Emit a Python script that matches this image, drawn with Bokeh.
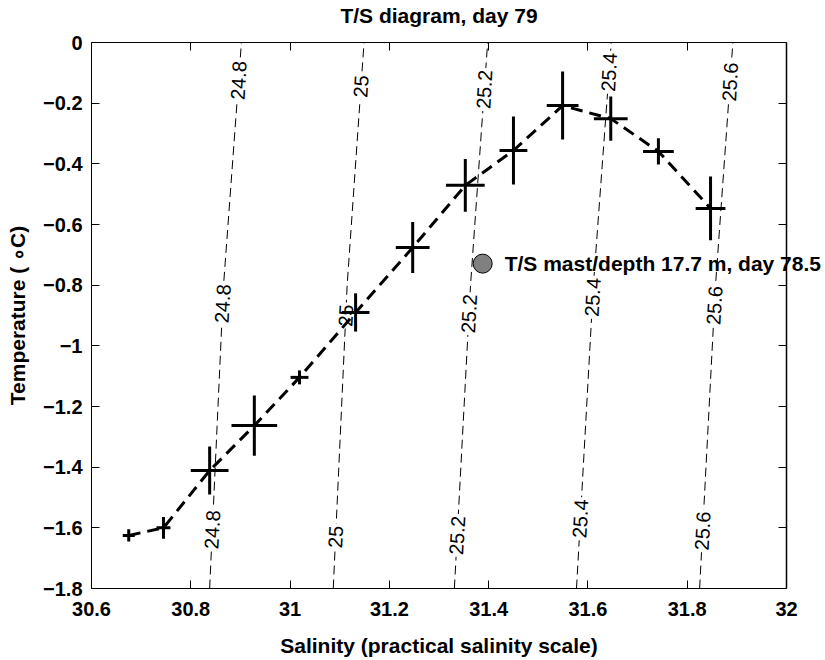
import numpy as np
from bokeh.plotting import figure
from bokeh.models import LinearAxis, FixedTicker, Label, CustomJSTickFormatter, Range1d, Span
from bokeh.core.properties import value
from bokeh.embed import file_html
from bokeh.resources import INLINE

# ---- data ----
salinity = [30.675, 30.745, 30.838, 30.928, 31.019, 31.132, 31.247,
            31.353, 31.450, 31.549, 31.646, 31.742, 31.847]
temperature = [-1.625, -1.600, -1.411, -1.263, -1.104, -0.890, -0.676,
               -0.471, -0.356, -0.208, -0.251, -0.359, -0.547]
salinity_err = [0.012, 0.014, 0.038, 0.046, 0.018, 0.028, 0.034,
                0.039, 0.028, 0.032, 0.034, 0.031, 0.030]
temperature_err = [0.020, 0.036, 0.079, 0.099, 0.023, 0.063, 0.084,
                   0.087, 0.112, 0.112, 0.073, 0.043, 0.105]

mast_salinity = [31.388]
mast_temperature = [-0.729]
mast_label = "T/S mast/depth 17.7 m, day 78.5"

# isopycnals (sigma-t) : salinity at temperatures contour_T
sigma_labels = ["24.8", "25", "25.2", "25.4", "25.6"]
contour_T = [-1.8, -0.8, 0.0]
contour_S_248 = [30.838, 30.866, 30.902]
contour_S_250 = [31.087, 31.115, 31.149]
contour_S_252 = [31.331, 31.3635, 31.398]
contour_S_254 = [31.577, 31.611, 31.647]
contour_S_256 = [31.825, 31.857, 31.892]
label_T_248 = [-0.125, -0.861, -1.606]
label_T_250 = [-0.145, -0.900, -1.630]
label_T_252 = [-0.155, -0.894, -1.625]
label_T_254 = [-0.098, -0.840, -1.570]
label_T_256 = [-0.130, -0.867, -1.610]

x_ticks = [30.6, 30.8, 31.0, 31.2, 31.4, 31.6, 31.8, 32.0]
x_tick_labels = ["30.6", "30.8", "31", "31.2", "31.4", "31.6", "31.8", "32"]
y_ticks = [-1.8, -1.6, -1.4, -1.2, -1.0, -0.8, -0.6, -0.4, -0.2, 0.0]
y_tick_labels = ["\u22121.8", "\u22121.6", "\u22121.4", "\u22121.2", "\u22121",
                 "\u22120.8", "\u22120.6", "\u22120.4", "\u22120.2", "0"]

title_text = "T/S diagram, day 79"
x_title = "Salinity (practical salinity scale)"
y_title = "Temperature ( \u2218C)"

FONT = "Liberation Sans"

# layout: the box (30.6..32) spans 91..786 px; the drawing area continues to the
# window edge so that the mast label may run past the right border, as in the original
W, H = 825, 660
LEFT, BOX_RIGHT, TOP, BOTTOM = 91, 786, 42, 72
x_lo, x_hi = x_ticks[0], x_ticks[-1]
x_mid = (x_lo + x_hi) / 2
x_end = x_lo + (x_hi - x_lo) * (W - LEFT) / (BOX_RIGHT - LEFT)

p = figure(width=W, height=H, x_range=Range1d(x_lo, x_end),
           y_range=Range1d(y_ticks[0], y_ticks[-1]),
           output_backend="svg", toolbar_location=None,
           min_border_left=LEFT, min_border_right=0, min_border_top=TOP,
           min_border_bottom=BOTTOM, background_fill_color="white",
           border_fill_color="white")
p.grid.visible = False
p.outline_line_color = None
p.title.visible = False

def style_axis(ax, ticks, labels=None):
    ax.ticker = FixedTicker(ticks=ticks)
    ax.bounds = (ticks[0], ticks[-1])
    ax.major_tick_in = 8
    ax.major_tick_out = 0
    ax.minor_tick_line_color = None
    ax.major_tick_line_color = "black"
    ax.axis_line_color = "black"
    ax.major_label_text_font = FONT
    ax.major_label_text_font_style = "bold"
    ax.major_label_text_font_size = "20px"
    ax.major_label_text_color = "black"
    ax.axis_label_text_font = FONT
    ax.axis_label_text_font_style = "bold"
    ax.axis_label_text_font_size = "21px"
    ax.axis_label_text_color = "black"
    if labels is not None:
        ax.major_label_overrides = {t: l for t, l in zip(ticks, labels)}

xa = p.xaxis[0]
style_axis(xa, x_ticks, x_tick_labels)
xa.major_label_standoff = 13

ya = p.yaxis[0]
style_axis(ya, y_ticks, y_tick_labels)
ya.axis_label = y_title
ya.major_label_standoff = 9
ya.axis_label_standoff = 11

top = LinearAxis()
style_axis(top, x_ticks)
top.formatter = CustomJSTickFormatter(code="return ''")
top.major_label_standoff = 0
top.major_label_text_font_size = "0px"
p.add_layout(top, "above")

right = LinearAxis(fixed_location=x_hi)
style_axis(right, y_ticks)
right.formatter = CustomJSTickFormatter(code="return ''")
right.major_label_standoff = 0
right.major_label_text_font_size = "0px"
p.add_layout(right, "right")
# right border of the box at S = 32
p.add_layout(Span(location=x_hi, dimension="height", line_color="black",
                  line_width=1.5))

# title and x-axis title centred on the box (30.6..32), as in the original
p.add_layout(Label(x=x_mid, y=y_ticks[-1], y_offset=27, text=title_text,
                   text_align="center", text_baseline="middle", text_font=FONT,
                   text_font_style="bold", text_font_size="21px",
                   text_color="black"), "above")
p.add_layout(Label(x=x_mid, y=y_ticks[0], y_offset=-57, text=x_title,
                   text_align="center", text_baseline="middle", text_font=FONT,
                   text_font_style="bold", text_font_size="21px",
                   text_color="black"), "below")

# ---- isopycnals ----
contours = [contour_S_248, contour_S_250, contour_S_252, contour_S_254, contour_S_256]
label_Ts = [label_T_248, label_T_250, label_T_252, label_T_254, label_T_256]
for lab, cs, lt in zip(sigma_labels, contours, label_Ts):
    p.line(cs, contour_T, line_color="black", line_width=1, line_dash="9 5")
for lab, cs, lt in zip(sigma_labels, contours, label_Ts):
    lx = np.interp(lt, contour_T, cs)
    p.text(x=list(lx), y=lt, text=[lab] * len(lt), angle=1.515,
           text_align="center", text_baseline="middle",
           text_font=value(FONT), text_font_size="20px", text_color="black",
           background_fill_color="white", padding=2)

# ---- T/S profile ----
s = np.array(salinity)
t = np.array(temperature)
ds = np.array(salinity_err)
dt = np.array(temperature_err)
p.line(salinity, temperature, line_color="black", line_width=3, line_dash="12 7")
p.segment(x0=s - ds, y0=t, x1=s + ds, y1=t, line_color="black", line_width=3)
p.segment(x0=s, y0=t - dt, x1=s, y1=t + dt, line_color="black", line_width=3)

# ---- mast sensor ----
p.scatter(mast_salinity, mast_temperature, size=19, fill_color="#808080",
          line_color="black", line_width=1)
p.add_layout(Label(x=mast_salinity[0], y=mast_temperature[0], x_offset=22,
                   text=mast_label, text_baseline="middle", text_font=FONT,
                   text_font_style="bold", text_font_size="21px",
                   text_color="black"))

open("out.html", "w").write(file_html(p, INLINE))
